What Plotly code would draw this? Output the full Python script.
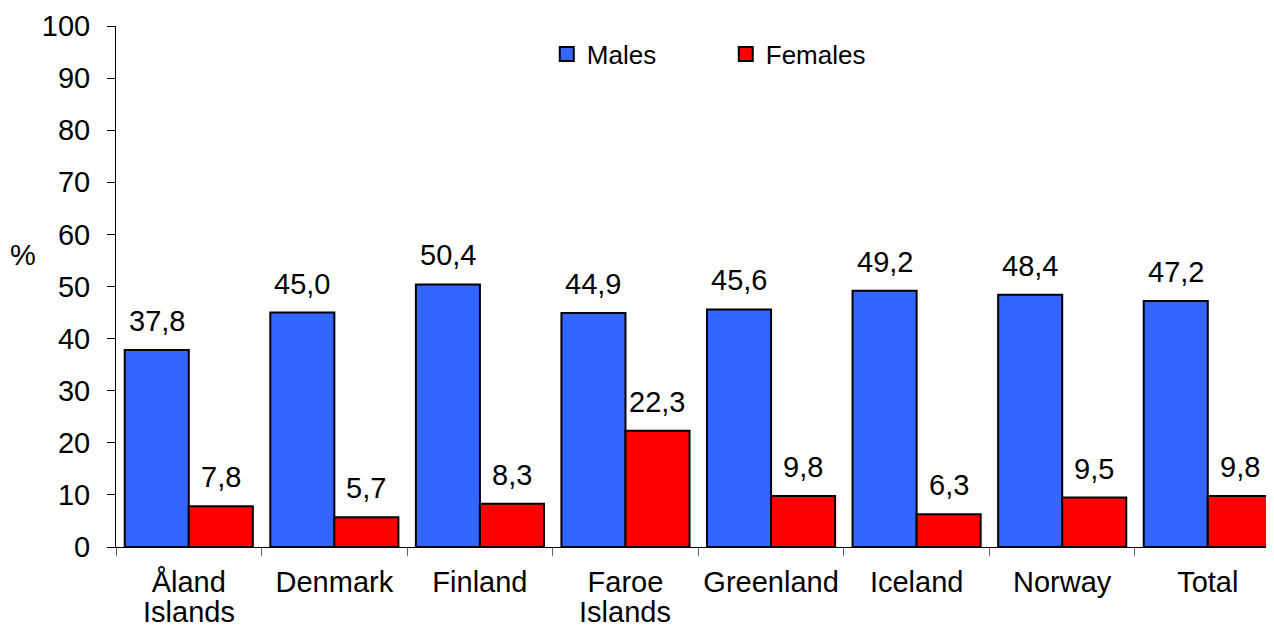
import plotly.graph_objects as go

categories = ["Åland Islands", "Denmark", "Finland", "Faroe Islands",
              "Greenland", "Iceland", "Norway", "Total"]
tick_line1 = ["Åland", "Denmark", "Finland", "Faroe", "Greenland", "Iceland", "Norway", "Total"]
tick_line2 = ["Islands", "", "", "Islands", "", "", "", ""]
males = [37.8, 45.0, 50.4, 44.9, 45.6, 49.2, 48.4, 47.2]
females = [7.8, 5.7, 8.3, 22.3, 9.8, 6.3, 9.5, 9.8]
y_ticks = list(range(0, 101, 10))

FONT = "Liberation Sans, Arial, sans-serif"
BLUE = "#3366FF"
RED = "#FF0000"
GAP = 0.12
HALF_BAR_PX = 32  # half of one bar's pixel width, used to centre value labels

fig = go.Figure()
fig.add_trace(go.Bar(x=categories, y=males, name="Males",
                     marker=dict(color=BLUE, line=dict(color="black", width=2)),
                     showlegend=False, hoverinfo="skip"))
fig.add_trace(go.Bar(x=categories, y=females, name="Females",
                     marker=dict(color=RED, line=dict(color="black", width=2)),
                     showlegend=False, hoverinfo="skip"))

# legend entries
for name, col in (("Males", BLUE), ("Females", RED)):
    fig.add_trace(go.Scatter(x=[None], y=[None], mode="markers", name=name,
                             marker=dict(symbol="square", size=14, color=col,
                                         line=dict(color="black", width=2))))

annotations = []
# value labels above bars
for vals, shift in ((males, -HALF_BAR_PX), (females, HALF_BAR_PX)):
    for cat, v in zip(categories, vals):
        annotations.append(dict(x=cat, y=v, xref="x", yref="y", xanchor="center", yanchor="bottom",
                                xshift=shift, yshift=11, text=f"{v:.1f}".replace(".", ","),
                                showarrow=False, font=dict(family=FONT, size=29, color="black")))
# second line of category labels
for cat, l2 in zip(categories, tick_line2):
    if l2:
        annotations.append(dict(x=cat, y=0, xref="x", yref="paper", yanchor="top", yshift=-47,
                                text=l2, showarrow=False, font=dict(family=FONT, size=29, color="black")))
annotations.append(dict(x=-0.0807, y=56, xref="paper", yref="y", xanchor="center", yanchor="middle",
                        text="%", showarrow=False, font=dict(family=FONT, size=29, color="black")))

fig.update_layout(
    width=1266, height=620,
    margin=dict(l=108, r=0, t=18, b=81),
    paper_bgcolor="white", plot_bgcolor="white",
    barmode="group", bargap=GAP, bargroupgap=0,
    font=dict(family=FONT, size=29, color="black"),
    legend=dict(orientation="h", x=0.372, y=0.946, xanchor="left", yanchor="middle",
                font=dict(family=FONT, size=26, color="black"),
                entrywidth=134, entrywidthmode="pixels", bgcolor="rgba(0,0,0,0)"),
    annotations=annotations,
)
fig.update_xaxes(type="category", categoryorder="array", categoryarray=categories,
                 tickvals=categories, ticktext=tick_line1,
                 range=[-0.5, 7.455], showline=True, linecolor="black", linewidth=1,
                 ticks="outside", tickson="boundaries", ticklen=8, tickcolor="#666666",
                 showgrid=False, zeroline=False, ticklabelstandoff=9,
                 tickfont=dict(family=FONT, size=29, color="black"))
fig.update_yaxes(range=[0, 100], tickvals=y_ticks, showline=True, linecolor="black", linewidth=1,
                 ticks="outside", ticklen=8, tickcolor="black", showgrid=False, zeroline=False,
                 ticklabelstandoff=11, tickfont=dict(family=FONT, size=29, color="black"))

fig.write_html("out.html")
